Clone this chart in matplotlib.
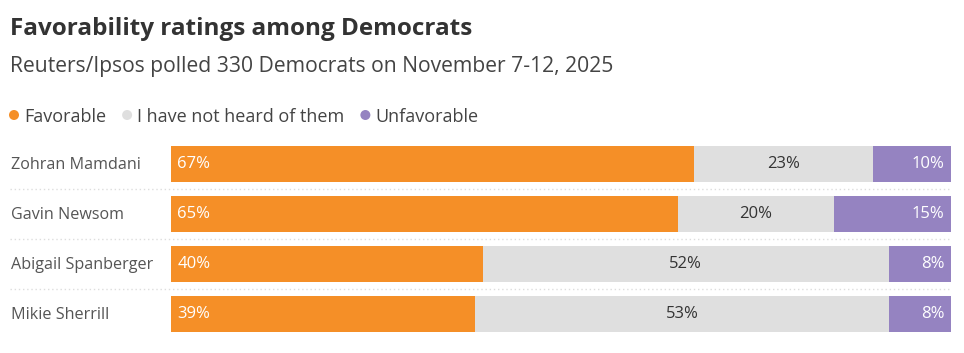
import matplotlib
matplotlib.use("Agg")
import matplotlib.pyplot as plt
from matplotlib.transforms import blended_transform_factory
from matplotlib.patches import Ellipse

plt.rcParams['font.family'] = ['Open Sans', 'DejaVu Sans']

names = ["Zohran Mamdani", "Gavin Newsom", "Abigail Spanberger", "Mikie Sherrill"]
favorable = [67, 65, 40, 39]
not_heard = [23, 20, 52, 53]
unfavorable = [10, 15, 8, 8]
series_labels = ["Favorable", "I have not heard of them", "Unfavorable"]
colors = ["#F58F27", "#DFDFDF", "#9583C1"]

W, H = 964, 353
fig = plt.figure(figsize=(W / 100, H / 100), dpi=100)

def fx(px):
    return px / W

def fy(py):
    return 1 - py / H

ax = fig.add_axes([fx(171), fy(339), fx(951) - fx(171), (339 - 139) / H])
ax.set_xlim(0, 100)
ax.set_ylim(len(names) - 0.5, -0.5)
ax.axis('off')

ys = list(range(len(names)))
h = 0.72
ax.barh(ys, favorable, height=h, color=colors[0], linewidth=0)
ax.barh(ys, not_heard, left=favorable, height=h, color=colors[1], linewidth=0)
left3 = [a + b for a, b in zip(favorable, not_heard)]
ax.barh(ys, unfavorable, left=left3, height=h, color=colors[2], linewidth=0)

lab_fs = 12
for i in ys:
    ax.text(0.8, i, f"{favorable[i]}%", ha='left', va='center', color='white', fontsize=lab_fs)
    ax.text(favorable[i] + not_heard[i] / 2, i, f"{not_heard[i]}%", ha='center', va='center',
            color='#333333', fontsize=lab_fs)
    ax.text(99.2, i, f"{unfavorable[i]}%", ha='right', va='center', color='white', fontsize=lab_fs)

# separators
x0 = (10 - 171) / 780 * 100
for s in [0.5, 1.5, 2.5]:
    ax.plot([x0, 100], [s, s], color='#dddddd', linewidth=1, linestyle=(0, (1, 2)), clip_on=False)

# row names
tr = blended_transform_factory(fig.transFigure, ax.transData)
for i, n in enumerate(names):
    fig.text(fx(11), i + 0.02, n, transform=tr, ha='left', va='center', color='#555555', fontsize=11.6)

# title and subtitle
fig.text(fx(10), fy(35), "Favorability ratings among Democrats", ha='left', va='baseline',
         fontsize=17.5, fontweight='bold', color='#333333')
fig.text(fx(10), fy(72), "Reuters/Ipsos polled 330 Democrats on November 7-12, 2025", ha='left',
         va='baseline', fontsize=15.2, color='#444444')

# legend (sequential placement)
leg_y = 115
renderer = fig.canvas.get_renderer()
x = 14
for c, lab in zip(colors, series_labels):
    e = Ellipse((fx(x), fy(leg_y)), width=10 / W, height=10 / H, transform=fig.transFigure,
                facecolor=c, edgecolor='none')
    fig.patches.append(e)
    t = fig.text(fx(x + 10), fy(leg_y + 1.5), lab, ha='left', va='center', fontsize=13, color='#444444')
    bb = t.get_window_extent(renderer=renderer)
    x = bb.x1 + 21

fig.savefig("out.png", dpi=100)
